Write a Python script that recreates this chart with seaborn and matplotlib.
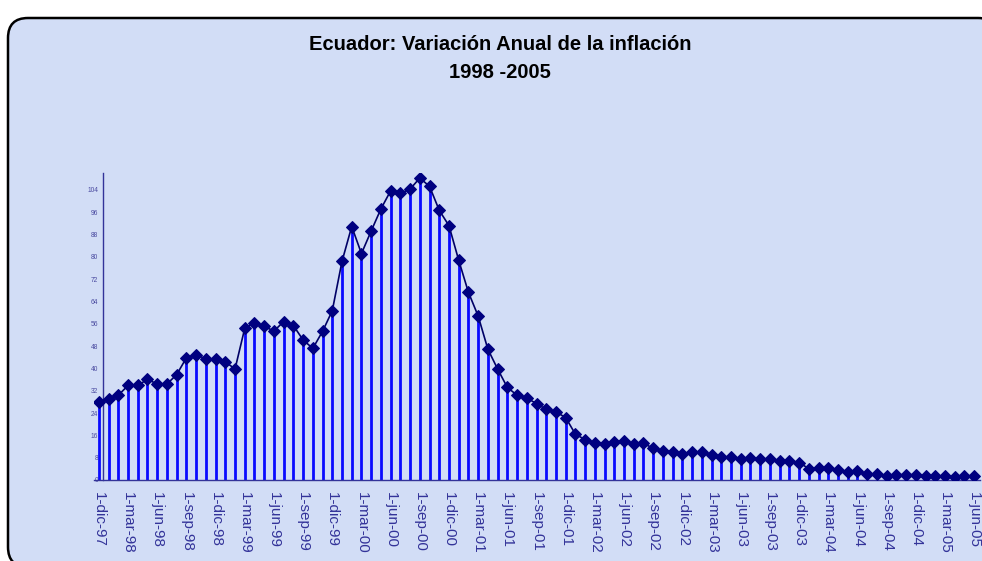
import numpy as np
import matplotlib
matplotlib.use("Agg")
import matplotlib.pyplot as plt
import seaborn as sns
from matplotlib.patches import FancyBboxPatch
from matplotlib.transforms import IdentityTransform

# Variación anual de la inflación, mensual dic-97 .. jun-05 (%)
inflacion = [
    28.1, 28.9, 30.4, 33.9, 33.9, 36.1, 34.4, 34.4, 37.8, 43.8, 45.0, 43.4,
    43.4, 42.4, 39.8, 54.4, 56.4, 55.1, 53.4, 56.8, 55.4, 50.2, 47.2, 53.3,
    60.7, 78.4, 90.9, 81.2, 89.3, 97.2, 103.7, 102.8, 104.3, 108.3, 105.3, 96.7,
    91.2, 78.8, 67.3, 58.8, 46.9, 39.8, 33.2, 30.4, 29.4, 27.4, 25.3, 24.4,
    22.4, 16.4, 14.5, 13.4, 13.0, 13.6, 14.1, 13.0, 13.1, 11.4, 10.5, 9.9,
    9.3, 10.0, 10.0, 8.8, 8.2, 8.4, 7.4, 7.9, 7.4, 7.4, 6.9, 6.7,
    6.2, 4.1, 4.2, 4.2, 3.5, 3.0, 3.3, 2.0, 2.0, 1.3, 1.9, 1.9,
    1.9, 1.4, 1.3, 1.6, 1.0, 1.6, 1.4,
]

# etiquetas trimestrales del eje x
etiquetas = [
    "1-dic-97", "1-mar-98", "1-jun-98", "1-sep-98", "1-dic-98", "1-mar-99",
    "1-jun-99", "1-sep-99", "1-dic-99", "1-mar-00", "1-jun-00", "1-sep-00",
    "1-dic-00", "1-mar-01", "1-jun-01", "1-sep-01", "1-dic-01", "1-mar-02",
    "1-jun-02", "1-sep-02", "1-dic-02", "1-mar-03", "1-jun-03", "1-sep-03",
    "1-dic-03", "1-mar-04", "1-jun-04", "1-sep-04", "1-dic-04", "1-mar-05",
    "1-jun-05",
]

y_ticks = [0, 8, 16, 24, 32, 40, 48, 56, 64, 72, 80, 88, 96, 104]

sns.set_style("white")
plt.rcParams['font.family'] = ['Liberation Sans', 'DejaVu Sans']

fig = plt.figure(figsize=(9.82, 5.61), dpi=100)
fig.patch.set_facecolor("white")

# fondo con borde redondeado
fondo = FancyBboxPatch((8, -6), 990, 549,
                       boxstyle="round,pad=0,rounding_size=20",
                       transform=IdentityTransform(),
                       facecolor="#D2DDF6", edgecolor="black", linewidth=1.8,
                       zorder=0)
fig.add_artist(fondo)

ax = fig.add_axes([94 / 982, 1 - 480 / 561, 886 / 982, 307.3 / 561])
ax.set_facecolor("none")

x = np.arange(len(inflacion))
valores = np.array(inflacion)

# barras verticales (tallos)
ax.vlines(x, 0, valores, color="#0A0AFF", linewidth=2.0, zorder=2)

# línea con marcadores
sns.lineplot(x=x, y=valores, ax=ax, color="#000066", linewidth=1.2,
             marker="D", markersize=6.5, markerfacecolor="#000080",
             markeredgecolor="#000080", zorder=3)

ax.set_xlim(-0.5, 90.6)
ax.set_ylim(0, 110.2)

# eje y
ax.spines['left'].set_position(('data', 0.38))
for s in ['top', 'right']:
    ax.spines[s].set_visible(False)
for s in ['left', 'bottom']:
    ax.spines[s].set_color("#333399")
    ax.spines[s].set_linewidth(1.0)
ax.set_yticks(y_ticks)
ax.set_yticklabels([str(v) for v in y_ticks], fontsize=4.8, color="#4A4AA0")
ax.tick_params(axis='y', length=2, width=0.8, color="#333399", pad=1)

# eje x
pos = np.arange(0, len(inflacion), 3)
ax.set_xticks(pos)
ax.set_xticklabels(etiquetas, rotation=270, fontsize=11, color="#333399",
                   va="top", ha="center")
ax.tick_params(axis='x', which='major', length=0, pad=9)
ax.set_xticks(pos - 0.5, minor=True)
ax.tick_params(axis='x', which='minor', length=4, width=1.0,
               color="#333399", direction="out")
ax.set_xlabel("")
ax.set_ylabel("")

fig.text(500 / 982, 1 - 45 / 561, "Ecuador: Variación Anual de la inflación",
         ha="center", va="center", fontsize=14.5, fontweight="bold",
         color="black")
fig.text(500 / 982, 1 - 72 / 561, "1998 -2005",
         ha="center", va="center", fontsize=14.5, fontweight="bold",
         color="black")

fig.savefig("out.png", dpi=100)
